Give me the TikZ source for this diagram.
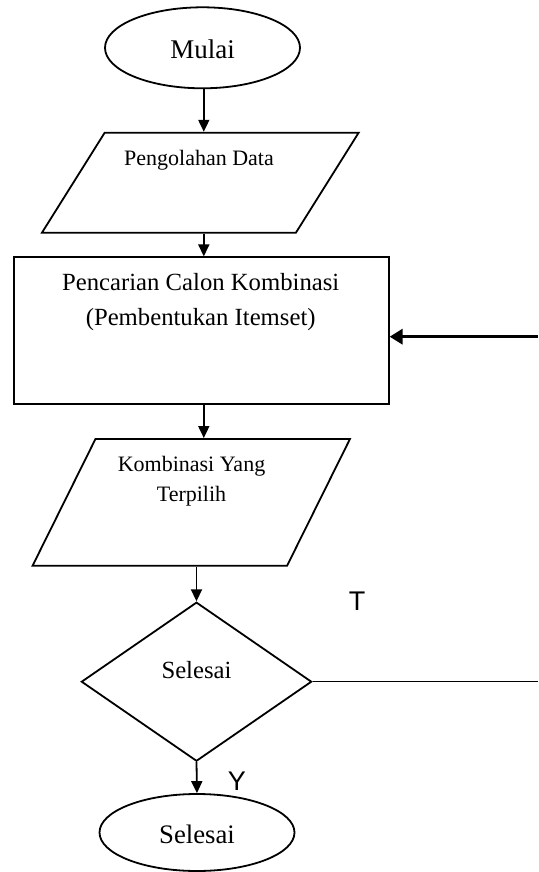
\documentclass[tikz,border=0pt]{standalone}
\usepackage{fontspec}
\setmainfont{Liberation Serif}
\newfontfamily\labelsans{Liberation Sans}
\usetikzlibrary{shapes.geometric,arrows.meta,positioning}

\begin{document}
\begin{tikzpicture}[x=1pt,y=1pt,yscale=-1,
        garis/.style={line width=1.8pt},
        panah/.style={garis,-{Triangle[width=11pt,length=12pt]}},
        terminal/.style={ellipse,draw,garis,inner sep=0pt,minimum width=195pt},
        masukan/.style={trapezium,draw,garis,inner sep=0pt,trapezium stretches body},
        teks/.style={align=center,inner sep=0pt}
        ]
        %set diagram left start at 0, and has height of 872
        \useasboundingbox (0,0) rectangle (538,872);
        
        %Shape: Ellipse
        \node [terminal,minimum height=81pt] (mulai) at (202.5,47.8) {};
        %Shape: Parallelogram
        \node [masukan,trapezium left angle=57.9,trapezium right angle=122.1,minimum width=316.7pt] (data) at (200.3,182.7) {\rule{0pt}{100pt}};
        %Shape: Rectangle
        \node [draw,garis,inner sep=0pt,minimum width=375pt,minimum height=147pt] (proses) at (201.2,330.8) {};
        %Shape: Parallelogram
        \node [masukan,trapezium left angle=63.6,trapezium right angle=116.4,minimum width=317.4pt] (hasil) at (191.3,502.3) {\rule{0pt}{126.7pt}};
        %Shape: Diamond
        \node [diamond,draw,garis,inner sep=0pt,minimum width=230.3pt,minimum height=159pt] (cek) at (196.5,681.7) {};
        %Shape: Ellipse
        \node [terminal,minimum height=77pt] (selesai) at (197,832.5) {};
        
        % Text Node
        \node [teks,font=\fontsize{27}{32}\selectfont] (mulaiteks) at (202.5,49) {Mulai};
        % Text Node
        \node [teks,font=\fontsize{22}{28}\selectfont] (datateks) at (199,160) {Pengolahan Data};
        % Text Node
        \node [teks,font=\fontsize{24.7}{35}\selectfont] (prosesteks) at (200.7,302.5) {Pencarian Calon Kombinasi\\(Pembentukan Itemset)};
        % Text Node
        \node [teks,font=\fontsize{22}{29.3}\selectfont] (hasilteks) at (191.5,481.3) {Kombinasi Yang\\Terpilih};
        % Text Node
        \node [teks,font=\fontsize{24.7}{30}\selectfont] (cekteks) at (196.5,670) {Selesai};
        % Text Node
        \node [teks,font=\fontsize{26.7}{32}\selectfont] (selesaiteks) at (197,834) {Selesai};
        % Text Node
        \node [teks,font=\labelsans\fontsize{27}{32}\selectfont] (labelT) at (357,601.7) {T};
        % Text Node
        \node [teks,font=\labelsans\fontsize{27}{32}\selectfont] (labelY) at (236.8,781) {Y};
        
        \coordinate (balik) at (538,336.7);
        \coordinate (tidak) at (538,681.7);
        
        %Straight Lines
        \draw [panah] (mulai.south -| 203.8,0) -- (data.north -| 203.8,0);
        \draw [panah] (data.south -| 203.8,0) -- (proses.north -| 203.8,0);
        \draw [panah] (proses.south -| 203.8,0) -- (hasil.north -| 203.8,0);
        \draw [panah] (hasil.south -| cek.north) -- (cek.north);
        \draw [panah] (cek.south) -- (selesai.north);
        \draw [line width=1.3pt] (cek.east) -- (tidak);
        \draw [line width=3.5pt,-{Triangle[width=15pt,length=13pt]}] (balik) -- (balik -| proses.east);
        
\end{tikzpicture}
\end{document}
